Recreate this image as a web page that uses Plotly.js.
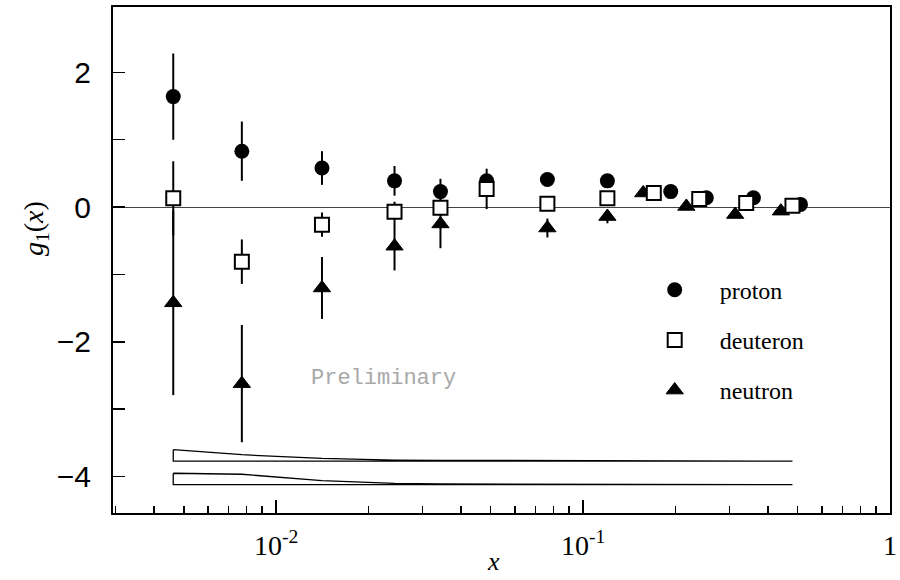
<!DOCTYPE html>
<html><head><meta charset="utf-8">
<script src="https://cdn.plot.ly/plotly-3.0.1.min.js"></script>
<style>html,body{margin:0;padding:0;background:#fff}#chart{width:900px;height:580px}</style>
</head><body><div id="chart"></div>
<script>
// ---- data ----
const protonX   = [0.00462, 0.00773, 0.0141, 0.0243, 0.0343, 0.0485, 0.0765, 0.120, 0.193, 0.252, 0.359, 0.511];
const protonY   = [1.64, 0.83, 0.58, 0.39, 0.23, 0.39, 0.41, 0.39, 0.23, 0.14, 0.14, 0.04];
const protonErr = [0.64, 0.44, 0.25, 0.22, 0.19, 0.10, 0.08, 0.08, 0.05, 0.04, 0.04, 0.03];

const deuteronX   = [0.00462, 0.00773, 0.0141, 0.0243, 0.0343, 0.0485, 0.0765, 0.120, 0.170, 0.239, 0.340, 0.481];
const deuteronY   = [0.13, -0.81, -0.26, -0.07, -0.01, 0.27, 0.05, 0.13, 0.21, 0.12, 0.06, 0.02];
const deuteronErr = [0.55, 0.33, 0.18, 0.15, 0.12, 0.30, 0.05, 0.06, 0.04, 0.03, 0.03, 0.02];

const neutronX   = [0.00462, 0.00773, 0.0141, 0.0243, 0.0343, 0.0765, 0.120, 0.157, 0.217, 0.313, 0.441];
const neutronY   = [-1.42, -2.62, -1.20, -0.58, -0.25, -0.31, -0.14, 0.21, 0.01, -0.11, -0.06];
const neutronErr = [1.37, 0.87, 0.46, 0.36, 0.36, 0.14, 0.10, 0.05, 0.04, 0.04, 0.03];

// systematic error bands (drawn at the bottom of the plot)
const sysX     = deuteronX;
const sysUpper = [0.17, 0.095, 0.04, 0.016, 0.012, 0.010, 0.009, 0.008, 0.008, 0.007, 0.006, 0.005];
const sysLower = [0.17, 0.155, 0.06, 0.020, 0.012, 0.010, 0.009, 0.008, 0.008, 0.007, 0.006, 0.005];

const xTickVals = [0.01, 0.1, 1];
const xTickText = ['10<sup>-2</sup>', '10<sup>-1</sup>', '1'];
const seriesNames = ['proton', 'deuteron', 'neutron'];

// ---- presentation ----
const bandBaseUpper = -3.77, bandBaseLower = -4.12;
const SERIF = '"Liberation Serif", "Times New Roman", serif';
const SANS = '"Liberation Sans", Arial, sans-serif';

function band(base, sys) {
  // closed outline: top edge left->right, bottom edge right->left, back to start
  const xs = sysX.concat(sysX.slice().reverse(), [sysX[0]]);
  const ys = sys.map(v => base + v).concat(sys.map(() => base).reverse(), [base + sys[0]]);
  return {x: xs, y: ys, type: 'scatter', mode: 'lines', fill: 'toself', fillcolor: 'white',
          line: {color: 'black', width: 1.3}, showlegend: false, hoverinfo: 'skip'};
}
function errs(arr) {
  return {type: 'data', array: arr, visible: true, thickness: 2, width: 0, color: 'black'};
}

const minorX = [];
[0.001, 0.01, 0.1].forEach(d => { for (let k = 2; k <= 9; k++) minorX.push(k * d); });

const traces = [
  band(bandBaseUpper, sysUpper),
  band(bandBaseLower, sysLower),
  {x: protonX, y: protonY, error_y: errs(protonErr), type: 'scatter', mode: 'markers', name: seriesNames[0],
   legendgroup: 'p', legendrank: 1,
   marker: {symbol: 'circle', size: 15, color: 'black', line: {width: 0}}},
  {x: neutronX, y: neutronY, error_y: errs(neutronErr), type: 'scatter', mode: 'markers', name: seriesNames[2],
   legendgroup: 'n', legendrank: 3,
   marker: {symbol: 'triangle-up', size: 15, color: 'black', line: {width: 1, color: 'black'}}},
  {x: deuteronX, y: deuteronY, error_y: errs(deuteronErr), type: 'scatter', mode: 'markers', name: seriesNames[1],
   legendgroup: 'd', legendrank: 2,
   marker: {symbol: 'square', size: 14, color: 'white', line: {width: 2, color: 'black'}}}
];

const layout = {
  width: 900, height: 580,
  margin: {l: 113, r: 10, t: 7, b: 67},
  paper_bgcolor: 'white', plot_bgcolor: 'white',
  showlegend: true,
  legend: {x: 0.665, y: 0.485, xanchor: 'left', yanchor: 'top', traceorder: 'grouped',
           tracegroupgap: 16, itemwidth: 80, bgcolor: 'rgba(0,0,0,0)',
           font: {family: SERIF, size: 24, color: 'black'}},
  xaxis: {type: 'log', range: [Math.log10(0.00294), 0],
          tickmode: 'array', tickvals: xTickVals, ticktext: xTickText,
          ticks: 'inside', ticklen: 13, tickwidth: 1.5, tickcolor: 'black',
          showline: true, linecolor: 'black', linewidth: 2, mirror: true,
          showgrid: false, zeroline: false, ticklabelstandoff: 6, ticklabeloverflow: 'allow',
          tickfont: {family: SERIF, size: 28, color: 'black'},
          minor: {tickmode: 'array', tickvals: minorX, ticks: 'inside', ticklen: 7, tickwidth: 1.5,
                  tickcolor: 'black', showgrid: false}},
  yaxis: {range: [-4.54, 2.97], tick0: 0, dtick: 2,
          ticks: 'inside', ticklen: 12, tickwidth: 1.5, tickcolor: 'black',
          showline: true, linecolor: 'black', linewidth: 2, mirror: true,
          showgrid: false, zeroline: true, zerolinecolor: '#444', zerolinewidth: 1,
          ticklabelstandoff: 14,
          tickfont: {family: SANS, size: 30, color: 'black'},
          minor: {dtick: 1, ticks: 'inside', ticklen: 12, tickwidth: 1.5, tickcolor: 'black', showgrid: false}},
  annotations: [
    {xref: 'paper', yref: 'paper', x: -0.1004, y: 0.563, xanchor: 'center', yanchor: 'middle',
     text: '<i>g</i><sub>1</sub>(<i>x</i>)', textangle: -90, showarrow: false,
     font: {family: SERIF, size: 28, color: 'black'}},
    {xref: 'paper', yref: 'paper', x: 0.4903, y: -0.0968, xanchor: 'center', yanchor: 'middle',
     text: '<i>x</i>', showarrow: false, font: {family: SERIF, size: 26, color: 'black'}},
    {xref: 'paper', yref: 'paper', x: 0.3475, y: 0.265, xanchor: 'center', yanchor: 'middle',
     text: 'Preliminary', showarrow: false, font: {family: '"Liberation Mono", monospace', size: 22, color: '#a8a8a8'}}
  ]
};

Plotly.newPlot('chart', traces, layout, {displayModeBar: false, staticPlot: true});
</script></body></html>
